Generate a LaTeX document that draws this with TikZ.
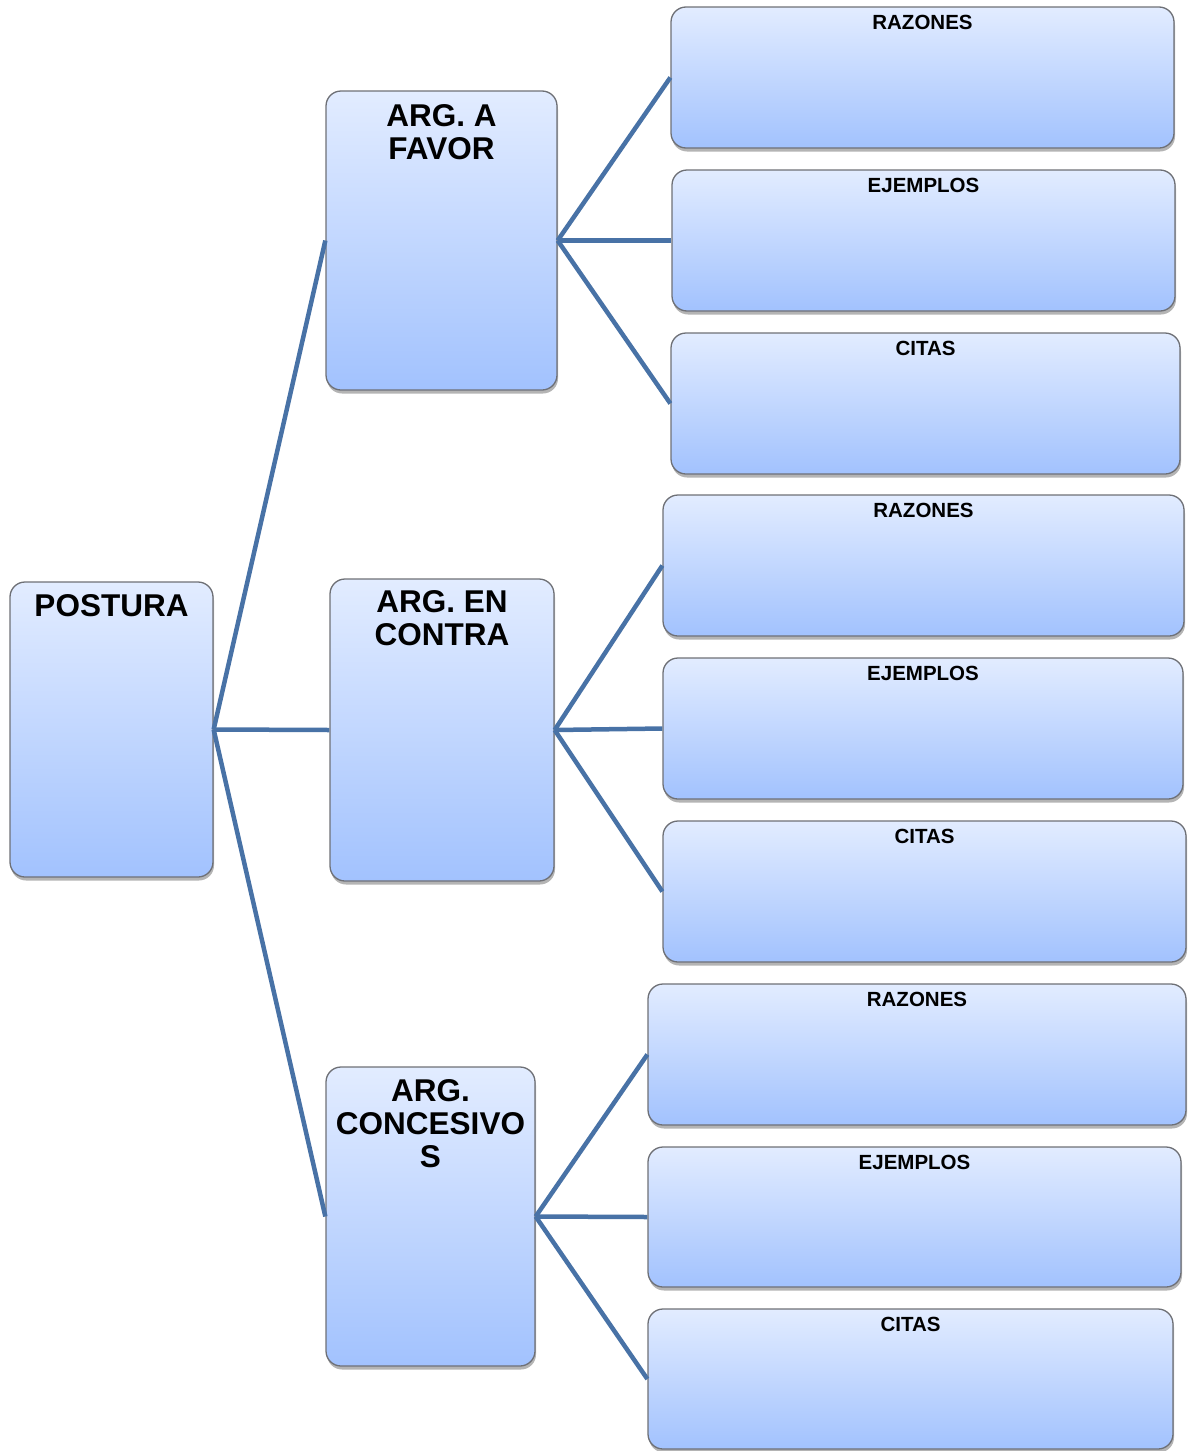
\documentclass[tikz,border=0pt]{standalone}
\usepackage{fontspec}
\setmainfont{Liberation Sans}
\usetikzlibrary{shadows}
\definecolor{boxtop}{RGB}{226,236,255}
\definecolor{boxbot}{RGB}{162,194,254}
\definecolor{boxline}{RGB}{110,112,118}
\definecolor{conn}{RGB}{72,114,166}
\tikzset{
  box/.style={draw=boxline, line width=1.3pt, rounded corners=15pt, top color=boxtop, bottom color=boxbot,
    inner sep=0pt, drop shadow={shadow xshift=1pt, shadow yshift=-3.5pt, opacity=0.45, fill=black!65}},
  bigtxt/.style={font=\fontsize{31.5}{33}\selectfont\bfseries, align=center, inner sep=0pt, anchor=north},
  smalltxt/.style={font=\fontsize{20.5}{22}\selectfont\bfseries, inner sep=0pt, anchor=north},
  link/.style={draw=conn, line width=4.5pt}
}
\newcommand{\mkbox}[5]{% name, x1, y1, x2, y2
  \node[box, minimum width={(#4-#2)*1pt}, minimum height={(#5-#3)*1pt}] (#1) at ({(#2+#4)/2},{(#3+#5)/2}) {};}
\begin{document}
\begin{tikzpicture}[x=1pt,y=-1pt]
\useasboundingbox (0,0) rectangle (1194,1451);
% main boxes
\mkbox{post}{10}{582}{213}{877}
\mkbox{fav}{326}{91}{557}{390}
\mkbox{con}{330}{579}{554}{881}
\mkbox{ces}{326}{1067}{535}{1366}
% right boxes
\mkbox{r1}{671}{7}{1174}{148}
\mkbox{e1}{672}{170}{1175}{311}
\mkbox{c1}{671}{333}{1180}{474}
\mkbox{r2}{663}{495}{1184}{636}
\mkbox{e2}{663}{658}{1183}{799}
\mkbox{c2}{663}{821}{1186}{962}
\mkbox{r3}{648}{984}{1186}{1125}
\mkbox{e3}{648}{1147}{1181}{1287}
\mkbox{c3}{648}{1309}{1173}{1449}
% labels
\node[bigtxt] (tpost) at ([yshift=-13pt]post.north) {POSTURA};
\node[bigtxt] (tfav) at ([yshift=-14pt]fav.north) {ARG. A\\FAVOR};
\node[bigtxt] (tcon) at ([yshift=-12pt]con.north) {ARG. EN\\CONTRA};
\node[bigtxt] (tces) at ([yshift=-13pt]ces.north) {ARG.\\CONCESIVO\\S};
\foreach \n/\t in {r1/RAZONES,e1/EJEMPLOS,c1/CITAS,r2/RAZONES,e2/EJEMPLOS,c2/CITAS,r3/RAZONES,e3/EJEMPLOS,c3/CITAS}{
  \node[smalltxt] (t\n) at ([yshift=-9pt]\n.north) {\t};
}
% connectors
\foreach \a in {fav,con,ces}{ \draw[link] (post.east) -- (\a.west); }
\foreach \a in {r1,e1,c1}{ \draw[link] (fav.east) -- (\a.west); }
\foreach \a in {r2,e2,c2}{ \draw[link] (con.east) -- (\a.west); }
\foreach \a in {r3,e3,c3}{ \draw[link] (ces.east) -- (\a.west); }
\end{tikzpicture}
\end{document}
